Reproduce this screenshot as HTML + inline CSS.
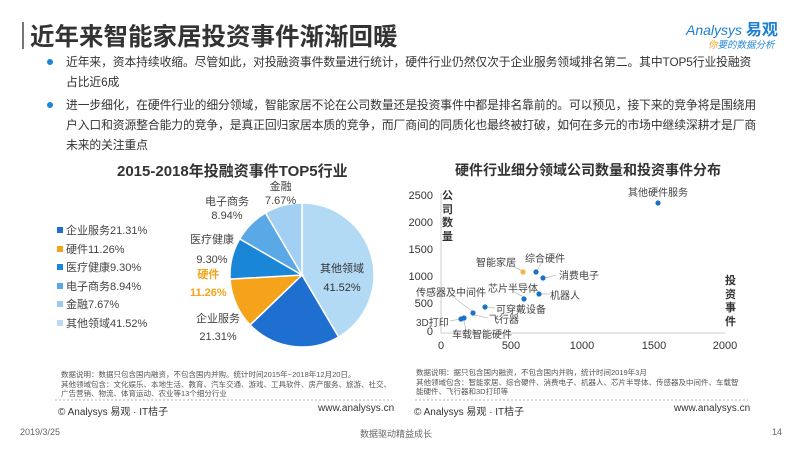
<!DOCTYPE html>
<html><head><meta charset="utf-8"><style>
*{margin:0;padding:0}
body{width:800px;height:450px;background:#fff;position:relative;overflow:hidden;font-family:"Liberation Sans","Noto Sans CJK SC",sans-serif;color:#333}
.a{position:absolute;white-space:nowrap}
.b{font-size:11.8px;color:#333;line-height:20px;letter-spacing:-0.1px}
.dot{position:absolute;width:7px;height:7px;border-radius:50%;background:#1a86d8}
.n{font-size:7.5px;color:#555;line-height:9.5px}
.lg{font-size:11px;color:#444}
.sq{display:inline-block;width:6px;height:6px;margin-right:3px;vertical-align:1px}
</style></head><body>
<div class="a" style="left:22px;top:22px;width:2px;height:27px;background:#777"></div>
<div class="a" style="left:30px;top:18px;font-size:24.5px;font-weight:bold;color:#333">近年来智能家居投资事件渐渐回暖</div>
<div class="a" style="left:686px;top:16px;font-size:14px;color:#1a7fd0;font-style:italic">Analysys <b style="font-style:normal;font-size:16px">易观</b></div>
<div class="a" style="left:708px;top:37px;font-size:9.5px;color:#2a8ad6;font-style:italic"><span style="color:#f5a31a">你</span>要的数据分析</div>

<div class="dot" style="left:47px;top:59px;width:6px;height:6px"></div>
<div class="a b" style="left:66px;top:52px">近年来，资本持续收缩。尽管如此，对投融资事件数量进行统计，硬件行业仍然仅次于企业服务领域排名第二。其中TOP5行业投融资<br>占比近6成</div>
<div class="dot" style="left:47px;top:102px;width:6px;height:6px"></div>
<div class="a b" style="left:66px;top:95px">进一步细化，在硬件行业的细分领域，智能家居不论在公司数量还是投资事件中都是排名靠前的。可以预见，接下来的竞争将是围绕用<br>户入口和资源整合能力的竞争，是真正回归家居本质的竞争，而厂商间的同质化也最终被打破，如何在多元的市场中继续深耕才是厂商<br>未来的关注重点</div>

<div class="a" style="left:117px;top:160px;font-size:15px;font-weight:bold;color:#333">2015-2018年投融资事件TOP5行业</div>
<div class="a lg" style="left:57px;top:222px;line-height:18.5px">
<div><span class="sq" style="background:#1f6fd0"></span>企业服务21.31%</div>
<div><span class="sq" style="background:#f5a31a"></span>硬件11.26%</div>
<div><span class="sq" style="background:#1a86d8"></span>医疗健康9.30%</div>
<div><span class="sq" style="background:#5aa9e6"></span>电子商务8.94%</div>
<div><span class="sq" style="background:#9ccbf0"></span>金融7.67%</div>
<div><span class="sq" style="background:#b9dcf4"></span>其他领域41.52%</div>
</div>
<svg class="a" style="left:0;top:0" width="800" height="450">
<g transform="translate(302,275)" stroke="#fff" stroke-width="1.5">
<path d="M0,0 L0,-72 A72,72 0 0 1 36.6,62.0 Z" fill="#b3daf5"/>
<path d="M0,0 L36.6,62.0 A72,72 0 0 1 -51.9,49.9 Z" fill="#1f6fd0"/>
<path d="M0,0 L-51.9,49.9 A72,72 0 0 1 -71.9,4.1 Z" fill="#f5a31a"/>
<path d="M0,0 L-71.9,4.1 A72,72 0 0 1 -62.3,-36.1 Z" fill="#1a86d8"/>
<path d="M0,0 L-62.3,-36.1 A72,72 0 0 1 -36.5,-62.1 Z" fill="#5aa9e6"/>
<path d="M0,0 L-36.5,-62.1 A72,72 0 0 1 0,-72 Z" fill="#a2cff2"/>
</g>
<line x1="55" y1="400" x2="392" y2="400" stroke="#999" stroke-width="0.8" stroke-dasharray="2,2"/>
<line x1="415" y1="400" x2="748" y2="400" stroke="#999" stroke-width="0.8" stroke-dasharray="2,2"/>
<line x1="441" y1="333" x2="725" y2="333" stroke="#ccc" stroke-width="1"/>
<line x1="441" y1="193" x2="441" y2="333" stroke="#ccc" stroke-width="1"/>
<g stroke="#bbb" stroke-width="0.7">
<line x1="525" y1="272" x2="510" y2="265"/>
<line x1="536" y1="272" x2="542" y2="262"/>
<line x1="545" y1="278" x2="556" y2="275"/>
<line x1="524" y1="297" x2="514" y2="292"/>
<line x1="539" y1="294" x2="550" y2="294"/>
<line x1="473" y1="312" x2="452" y2="296"/>
<line x1="487" y1="307" x2="495" y2="308"/>
<line x1="474" y1="315" x2="488" y2="318"/>
<line x1="460" y1="319" x2="450" y2="321"/>
<line x1="464" y1="321" x2="466" y2="330"/>
</g>
<g fill="#1a72c8">
<circle cx="658" cy="203" r="2.6"/>
<circle cx="536" cy="272" r="2.6"/>
<circle cx="543" cy="278" r="2.6"/>
<circle cx="524" cy="299" r="2.6"/>
<circle cx="539" cy="294" r="2.6"/>
<circle cx="485" cy="307" r="2.6"/>
<circle cx="473" cy="313" r="2.6"/>
<circle cx="461" cy="319" r="2.6"/>
<circle cx="464" cy="318" r="2.6"/>
</g>
<circle cx="523" cy="272" r="2.6" fill="#f5b34a"/>
</svg>
<div class="a" style="left:205px;top:195px;font-size:11px;color:#444;text-align:center;line-height:14px">电子商务<br>8.94%</div>
<div class="a" style="left:265px;top:180px;font-size:11px;color:#444;text-align:center;line-height:14px">金融<br>7.67%</div>
<div class="a" style="left:190px;top:230px;font-size:11px;color:#444;text-align:center;line-height:20px">医疗健康<br>9.30%</div>
<div class="a" style="left:190px;top:266px;font-size:11px;color:#f5a31a;font-weight:bold;text-align:center;line-height:18px">硬件<br>11.26%</div>
<div class="a" style="left:196px;top:310px;font-size:11px;color:#444;text-align:center;line-height:18px">企业服务<br>21.31%</div>
<div class="a" style="left:320px;top:260px;font-size:11px;color:#333;text-align:center;line-height:19px">其他领域<br>41.52%</div>
<div class="a n" style="left:61px;top:370px">数据说明：数据只包含国内融资，不包含国内并购。统计时间2015年~2018年12月20日。<br>其他领域包含：文化娱乐、本地生活、教育、汽车交通、游戏、工具软件、房产服务、旅游、社交、<br>广告营销、物流、体育运动、农业等13个细分行业</div>
<div class="a" style="left:58px;top:403px;font-size:10px;color:#333">© Analysys 易观 · IT桔子</div>
<div class="a" style="left:318px;top:403px;font-size:10px;color:#333">www.analysys.cn</div>

<div class="a" style="left:455px;top:160px;font-size:14px;font-weight:bold;color:#333">硬件行业细分领域公司数量和投资事件分布</div>
<div class="a" style="left:404px;top:190px;font-size:11px;color:#333;text-align:right;width:29px;line-height:13px">2500</div>
<div class="a" style="left:404px;top:217px;font-size:11px;color:#333;text-align:right;width:29px">2000</div>
<div class="a" style="left:404px;top:244px;font-size:11px;color:#333;text-align:right;width:29px">1500</div>
<div class="a" style="left:404px;top:271px;font-size:11px;color:#333;text-align:right;width:29px">1000</div>
<div class="a" style="left:404px;top:298px;font-size:11px;color:#333;text-align:right;width:29px">500</div>
<div class="a" style="left:404px;top:326px;font-size:11px;color:#333;text-align:right;width:29px">0</div>
<div class="a" style="left:431px;top:340px;font-size:11px;color:#333;width:20px;text-align:center">0</div>
<div class="a" style="left:496px;top:340px;font-size:11px;color:#333;width:30px;text-align:center">500</div>
<div class="a" style="left:564px;top:340px;font-size:11px;color:#333;width:36px;text-align:center">1000</div>
<div class="a" style="left:636px;top:340px;font-size:11px;color:#333;width:36px;text-align:center">1500</div>
<div class="a" style="left:707px;top:340px;font-size:11px;color:#333;width:36px;text-align:center">2000</div>
<div class="a" style="left:442px;top:190px;font-size:11px;font-weight:bold;color:#333;line-height:13.5px;width:12px;white-space:normal">公司数量</div>
<div class="a" style="left:725px;top:275px;font-size:11px;font-weight:bold;color:#333;line-height:13.5px;width:12px;white-space:normal">投资事件</div>
<div class="a" style="left:628px;top:184px;font-size:10px;color:#444">其他硬件服务</div>
<div class="a" style="left:525px;top:250px;font-size:10px;color:#444">综合硬件</div>
<div class="a" style="left:476px;top:254px;font-size:10px;color:#444">智能家居</div>
<div class="a" style="left:559px;top:267px;font-size:10px;color:#444">消费电子</div>
<div class="a" style="left:488px;top:280px;font-size:10px;color:#444">芯片半导体</div>
<div class="a" style="left:550px;top:287px;font-size:10px;color:#444">机器人</div>
<div class="a" style="left:416px;top:284px;font-size:10px;color:#444">传感器及中间件</div>
<div class="a" style="left:496px;top:301px;font-size:10px;color:#444">可穿戴设备</div>
<div class="a" style="left:489px;top:311px;font-size:10px;color:#444">飞行器</div>
<div class="a" style="left:416px;top:314px;font-size:10px;color:#444">3D打印</div>
<div class="a" style="left:452px;top:326px;font-size:10px;color:#444">车载智能硬件</div>
<div class="a n" style="left:416px;top:368px">数据说明：据只包含国内融资，不包含国内并购，统计时间2019年3月<br>其他领域包含：智能家居、综合硬件、消费电子、机器人、芯片半导体、传感器及中间件、车载智<br>能硬件、飞行器和3D打印等</div>
<div class="a" style="left:414px;top:403px;font-size:10px;color:#333">© Analysys 易观 · IT桔子</div>
<div class="a" style="left:674px;top:403px;font-size:10px;color:#333">www.analysys.cn</div>

<div class="a" style="left:20px;top:427px;font-size:9px;color:#666">2019/3/25</div>
<div class="a" style="left:360px;top:427px;font-size:9px;color:#666">数据驱动精益成长</div>
<div class="a" style="left:772px;top:427px;font-size:9px;color:#666">14</div>
</body></html>
